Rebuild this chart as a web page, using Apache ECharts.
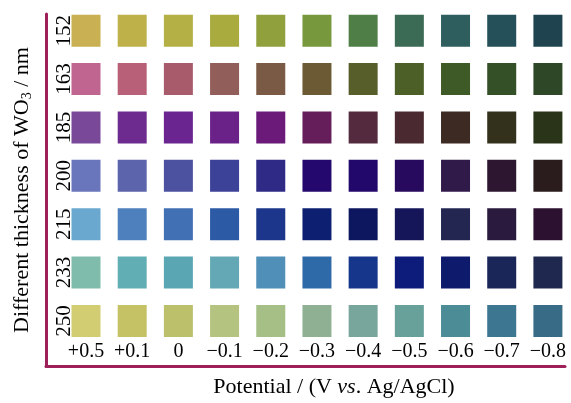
<!DOCTYPE html>
<html>
<head>
<meta charset="utf-8">
<script src="https://cdn.jsdelivr.net/npm/echarts@6/dist/echarts.min.js"></script>
<style>
html,body{margin:0;padding:0;background:#fff;}
#chart{width:571px;height:403px;}
</style>
</head>
<body>
<div id="chart"></div>
<script>
// Categories
const potentials = ['+0.5', '+0.1', '0', '\u22120.1', '\u22120.2', '\u22120.3', '\u22120.4', '\u22120.5', '\u22120.6', '\u22120.7', '\u22120.8'];
const thicknesses = ['152', '163', '185', '200', '215', '233', '250'];

// Observed colour of each film at each potential (row = thickness)
const colors152 = ['#c9b052', '#bfb14a', '#b5b045', '#a9ab3f', '#8fa03d', '#78983d', '#4f7f47', '#3b6a55', '#2e5f5e', '#25505a', '#1f4450'];
const colors163 = ['#c0658f', '#b76078', '#a85c6b', '#925e59', '#7b5a45', '#6b5a33', '#575e2a', '#4b5f27', '#3e5a26', '#345027', '#2e4727'];
const colors185 = ['#7a4898', '#6d2b90', '#6a2590', '#6b2288', '#6b1a7a', '#661e5a', '#542a3e', '#4a2a30', '#3d2a22', '#33301c', '#2a3418'];
const colors200 = ['#6a76bb', '#5c64ac', '#4c52a0', '#3c4298', '#2e2a85', '#25086e', '#22086a', '#27095e', '#301a4a', '#2d1630', '#2a1c1c'];
const colors215 = ['#6aa8cf', '#4d80bd', '#4270b4', '#2d5aa5', '#1b368a', '#0d1f70', '#0d1760', '#15165a', '#222650', '#291a3e', '#2c1230'];
const colors233 = ['#80bcab', '#61aeb4', '#5aa7b3', '#64a8b6', '#4f8fb8', '#2f6aa8', '#16368c', '#0d1c7b', '#0e1a6c', '#1a2658', '#1f284f'];
const colors250 = ['#d2cc73', '#c5c266', '#bcc06a', '#b4c37f', '#a6bf86', '#8fb092', '#79a69c', '#68a09a', '#4b8c96', '#3d7690', '#386b85'];

const rows = [colors152, colors163, colors185, colors200, colors215, colors233, colors250];

const data = [];
rows.forEach(function (row, yi) {
  row.forEach(function (c, xi) {
    data.push({ value: [xi, yi], itemStyle: { color: c } });
  });
});

const idxX = potentials.map(function (_, i) { return i; });
const idxY = thicknesses.map(function (_, i) { return i; });
const axisColor = '#9e2058';
const serif = 'Liberation Serif';

const chart = echarts.init(document.getElementById('chart'));
chart.setOption({
  animation: false,
  backgroundColor: '#ffffff',
  grid: { left: 46, right: 6, top: 14, bottom: 30 },
  xAxis: {
    type: 'value',
    min: -0.866,
    max: 10.37,
    splitLine: { show: false },
    axisTick: { show: false },
    axisLine: { show: true, onZero: false, lineStyle: { color: axisColor, width: 3 } },
    axisLabel: {
      inside: true,
      margin: 4,
      customValues: idxX,
      formatter: function (v) { return potentials[Math.round(v)]; },
      color: '#000', fontFamily: serif, fontSize: 20
    },
    name: 'Potential / (V {i|vs}. Ag/AgCl)',
    nameLocation: 'middle',
    nameGap: 10,
    nameTextStyle: {
      color: '#000', fontFamily: serif, fontSize: 22, verticalAlign: 'top',
      padding: [0, 0, 0, 57],
      rich: { i: { fontStyle: 'italic', fontFamily: serif, fontSize: 22, color: '#000' } }
    }
  },
  yAxis: {
    type: 'value',
    inverse: true,
    min: -0.345,
    max: 6.93,
    splitLine: { show: false },
    axisTick: { show: false },
    axisLine: { show: true, onZero: false, lineStyle: { color: axisColor, width: 3 } },
    axisLabel: {
      inside: true,
      rotate: 90,
      margin: 8,
      customValues: idxY,
      formatter: function (v) { return thicknesses[Math.round(v)]; },
      color: '#000', fontFamily: serif, fontSize: 21
    },
    name: 'Different thickness of WO{sub|3} / nm',
    nameLocation: 'middle',
    nameGap: 12,
    nameRotate: 90,
    nameTextStyle: {
      color: '#000', fontFamily: serif, fontSize: 22,
      rich: { sub: { fontFamily: serif, fontSize: 14, color: '#000', padding: [10, 0, 0, 0] } }
    }
  },
  series: [{
    type: 'scatter',
    symbol: 'rect',
    symbolSize: [29, 32],
    itemStyle: { opacity: 1 },
    data: data
  }]
});
</script>
</body>
</html>
